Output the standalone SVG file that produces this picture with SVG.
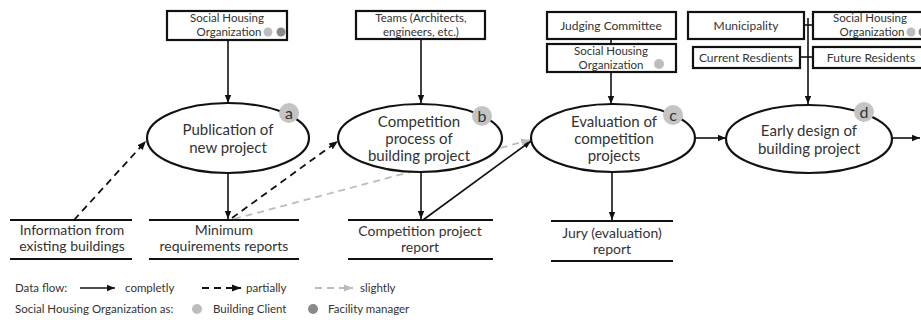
<svg xmlns="http://www.w3.org/2000/svg" width="921" height="320" viewBox="0 0 921 320">
<defs>
<style>
text{font-family:Lato,"Open Sans","Liberation Sans",sans-serif;fill:#333}
.box{fill:#fff;stroke:#111;stroke-width:2.2}
.ell{fill:#fff;stroke:#111;stroke-width:2.2}
.bt{font-size:11.5px;text-anchor:middle}
.bt1{font-size:12px;text-anchor:middle}
.et{font-size:15px;text-anchor:middle}
.rt{font-size:14px;text-anchor:middle}
.rl{stroke:#111;stroke-width:2.2}
.badge{fill:#c4c4c4}
.bl{font-size:16px;text-anchor:middle}
.lc{fill:#bdbdbd}
.dc{fill:#8a8a8a}
.c{stroke:#111;stroke-width:1.6;fill:none}
.d{stroke:#111;stroke-width:1.8;fill:none;stroke-dasharray:7,5}
.g{stroke:#bbb;stroke-width:1.8;fill:none;stroke-dasharray:7,5}
.lg{font-size:11.5px}
</style>
<marker id="ab" viewBox="0 0 10 10" refX="10" refY="5" markerWidth="5" markerHeight="5" orient="auto" markerUnits="strokeWidth"><path d="M0,1 L10,5 L0,9 z" fill="#111"/></marker>
<marker id="ag" viewBox="0 0 10 10" refX="10" refY="5" markerWidth="5" markerHeight="5" orient="auto" markerUnits="strokeWidth"><path d="M0,1 L10,5 L0,9 z" fill="#bbb"/></marker>
</defs>

<g id="connectors">
<line class="c" x1="228" y1="40" x2="228" y2="103" marker-end="url(#ab)"/>
<line class="c" x1="421" y1="39" x2="421" y2="103" marker-end="url(#ab)"/>
<line class="c" x1="611" y1="39" x2="611" y2="44"/>
<line class="c" x1="611" y1="72" x2="611" y2="104" marker-end="url(#ab)"/>
<line class="c" x1="808" y1="18" x2="808" y2="104" marker-end="url(#ab)"/>
<line class="c" x1="804" y1="25" x2="813" y2="25"/>
<line class="c" x1="800" y1="57" x2="813" y2="57"/>
<line class="c" x1="694" y1="138" x2="726" y2="138" marker-end="url(#ab)"/>
<line class="c" x1="893" y1="138" x2="920" y2="138" marker-end="url(#ab)"/>
<line class="c" x1="228" y1="173" x2="228" y2="219" marker-end="url(#ab)"/>
<line class="c" x1="421" y1="172" x2="421" y2="219" marker-end="url(#ab)"/>
<line class="c" x1="612" y1="172" x2="612" y2="220" marker-end="url(#ab)"/>
<line class="c" x1="423" y1="220" x2="531" y2="141" marker-end="url(#ab)"/>
<line class="d" x1="74" y1="220" x2="146" y2="141" marker-end="url(#ab)"/>
<line class="d" x1="232" y1="218" x2="338" y2="141" marker-end="url(#ab)"/>
<line class="g" x1="234" y1="219" x2="530" y2="140" marker-end="url(#ag)"/>
</g>

<g id="sho-a">
<rect class="box" x="167" y="11" width="120" height="29"/>
<text class="bt" x="227" y="22">Social Housing</text>
<text class="bt" x="229" y="36">Organization</text>
<circle class="lc" cx="268" cy="32" r="4.5"/>
<circle class="dc" cx="281" cy="32" r="4.5"/>
</g>
<g id="teams">
<rect class="box" x="356" y="11" width="129" height="28"/>
<text class="bt" x="421" y="22">Teams (Architects,</text>
<text class="bt" x="421" y="36">engineers, etc.)</text>
</g>
<g id="judging">
<rect class="box" x="547" y="12" width="129" height="27"/>
<text class="bt1" x="611" y="30">Judging Committee</text>
</g>
<g id="sho-c">
<rect class="box" x="547" y="44" width="129" height="28"/>
<text class="bt" x="611" y="55">Social Housing</text>
<text class="bt" x="611" y="69">Organization</text>
<circle class="lc" cx="659" cy="64" r="5"/>
</g>
<g id="municipality">
<rect class="box" x="688" y="12" width="116" height="27"/>
<text class="bt1" x="746" y="30">Municipality</text>
</g>
<g id="sho-d">
<rect class="box" x="813" y="12" width="112" height="27"/>
<text class="bt" x="870" y="22">Social Housing</text>
<text class="bt" x="872" y="36">Organization</text>
<circle class="lc" cx="911" cy="32" r="4.5"/>
<circle class="dc" cx="923" cy="32" r="4.5"/>
</g>
<g id="current">
<rect class="box" x="693" y="47" width="107" height="21"/>
<text class="bt1" x="746" y="62">Current Resdients</text>
</g>
<g id="future">
<rect class="box" x="813" y="47" width="112" height="21"/>
<text class="bt1" x="871" y="62">Future Residents</text>
</g>

<g id="node-a">
<ellipse class="ell" cx="228" cy="138" rx="81" ry="35"/>
<text class="et" x="228" y="135">Publication of</text>
<text class="et" x="228" y="153">new project</text>
<circle class="badge" cx="289" cy="113" r="10"/>
<text class="bl" x="289" y="119">a</text>
</g>
<g id="node-b">
<ellipse class="ell" cx="420" cy="138" rx="82" ry="34"/>
<text class="et" x="419" y="127">Competition</text>
<text class="et" x="419" y="144">process of</text>
<text class="et" x="419" y="161">building project</text>
<circle class="badge" cx="482" cy="116" r="10"/>
<text class="bl" x="482" y="122">b</text>
</g>
<g id="node-c">
<ellipse class="ell" cx="613" cy="138" rx="82" ry="34"/>
<text class="et" x="614" y="127">Evaluation of</text>
<text class="et" x="614" y="144">competition</text>
<text class="et" x="614" y="161">projects</text>
<circle class="badge" cx="673" cy="115" r="10"/>
<text class="bl" x="673" y="121">c</text>
</g>
<g id="node-d">
<ellipse class="ell" cx="809" cy="139" rx="83" ry="34"/>
<text class="et" x="809" y="136">Early design of</text>
<text class="et" x="809" y="154">building project</text>
<circle class="badge" cx="864" cy="112" r="10"/>
<text class="bl" x="864" y="118">d</text>
</g>

<g id="info">
<line class="rl" x1="10" y1="220" x2="132" y2="220"/>
<line class="rl" x1="10" y1="259" x2="132" y2="259"/>
<text class="rt" x="72" y="235">Information from</text>
<text class="rt" x="72" y="251">existing buildings</text>
</g>
<g id="minreq">
<line class="rl" x1="149" y1="220" x2="299" y2="220"/>
<line class="rl" x1="149" y1="259" x2="299" y2="259"/>
<text class="rt" x="224" y="235">Minimum</text>
<text class="rt" x="224" y="251">requirements reports</text>
</g>
<g id="comprep">
<line class="rl" x1="348" y1="220" x2="493" y2="220"/>
<line class="rl" x1="348" y1="259" x2="493" y2="259"/>
<text class="rt" x="420" y="236">Competition project</text>
<text class="rt" x="420" y="252">report</text>
</g>
<g id="jury">
<line class="rl" x1="551" y1="221" x2="673" y2="221"/>
<line class="rl" x1="551" y1="261" x2="673" y2="261"/>
<text class="rt" x="612" y="238">Jury (evaluation)</text>
<text class="rt" x="612" y="254">report</text>
</g>

<g id="legend">
<text class="lg" x="15" y="292">Data flow:</text>
<line class="c" x1="80" y1="288" x2="115" y2="288" marker-end="url(#ab)"/>
<text class="lg" x="125" y="292">completly</text>
<line class="d" x1="202" y1="288" x2="241" y2="288" marker-end="url(#ab)"/>
<text class="lg" x="246" y="292">partially</text>
<line class="g" x1="315" y1="288" x2="353" y2="288" marker-end="url(#ag)"/>
<text class="lg" x="360" y="292">slightly</text>
<text class="lg" x="15" y="313">Social Housing Organization as:</text>
<circle class="lc" cx="197" cy="309" r="5"/>
<text class="lg" x="213" y="313">Building Client</text>
<circle class="dc" cx="313" cy="309" r="5"/>
<text class="lg" x="328" y="313">Facility manager</text>
</g>
</svg>
